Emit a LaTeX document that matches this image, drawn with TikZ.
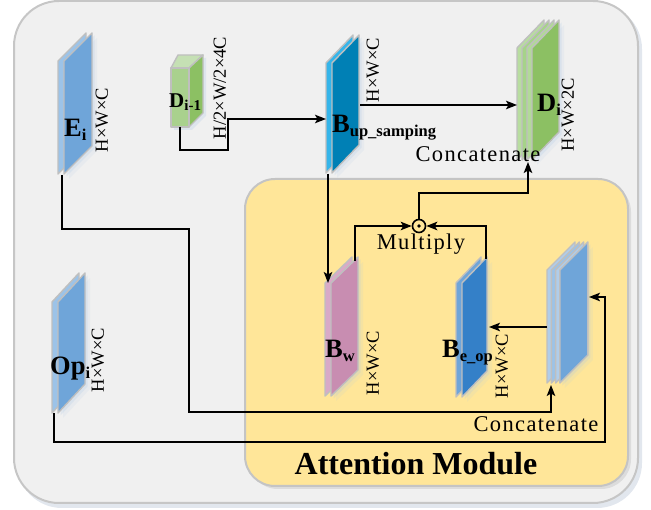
\documentclass[tikz,border=0pt]{standalone}
\usepackage{fontspec}
\setmainfont{Liberation Serif}
\newfontfamily\lsfont[LetterSpace=6]{Liberation Serif}
\usetikzlibrary{arrows.meta}

\definecolor{outerfill}{HTML}{F0F0F0}
\definecolor{outerdraw}{HTML}{C6C6C6}
\definecolor{outershadow}{HTML}{E2E7EE}
\definecolor{yellowfill}{HTML}{FFE699}
\definecolor{yellowdraw}{HTML}{C4C4C4}
\definecolor{yellowshadow}{HTML}{DCDCDC}
\definecolor{edgegrey}{HTML}{BFBFBF}
\definecolor{glowc}{HTML}{A9C6E6}
\definecolor{eifront}{HTML}{6FA5D9}
\definecolor{eiside}{HTML}{9CC3E8}
\definecolor{bupfront}{HTML}{0080B5}
\definecolor{bupside}{HTML}{35B5EA}
\definecolor{difront}{HTML}{8CC063}
\definecolor{dione}{HTML}{B8DDA0}
\definecolor{ditwo}{HTML}{A6D389}
\definecolor{dithree}{HTML}{B2DA98}
\definecolor{dmfront}{HTML}{A9D18E}
\definecolor{dmright}{HTML}{8CC063}
\definecolor{dmtop}{HTML}{C5E0B4}
\definecolor{bwfront}{HTML}{C88DB1}
\definecolor{bwside}{HTML}{D9AAC8}
\definecolor{befront}{HTML}{3480C8}
\definecolor{beside}{HTML}{6FA5D9}
\definecolor{ccone}{HTML}{B0CDEA}
\definecolor{cctwo}{HTML}{9CC3E8}
\definecolor{ccthree}{HTML}{B0CDEA}

\tikzset{
  conn/.style={line width=1.8pt, draw=black},
  arr/.style={conn, -{Stealth[length=11pt,width=8.5pt,inset=2.5pt]}},
  slabedge/.style={draw=edgegrey, line width=1.4pt, line join=round},
  dimlabel/.style={rotate=90, font=\fontsize{18.5}{18.5}\selectfont, inner sep=0},
  biglabel/.style={anchor=base west, inner sep=0, font=\fontsize{26.5}{26.5}\selectfont\bfseries},
  txtlabel/.style={anchor=base, inner sep=0, font=\fontsize{22.5}{22.5}\selectfont\lsfont},
}
\newcommand{\mysub}[1]{\raisebox{-3.5pt}{\fontsize{16.5}{16.5}\selectfont\bfseries #1}}
% #1 left x, #2 top y, #3 layer step, #4 width, #5 height, #6 skew, #7 colours, #8 index of front layer
\newcommand{\slabpanel}[8]{%
  \fill[glowc, opacity=0.12] ({#1+#8*#3+5},{#2+5}) -- ++(#4,-#6) -- ++(0,#5) -- ++(-#4,#6) -- cycle;
  \fill[glowc, opacity=0.22] ({#1+#8*#3+2.5},{#2+2.5}) -- ++(#4,-#6) -- ++(0,#5) -- ++(-#4,#6) -- cycle;
  \foreach \col [count=\k from 0] in {#7} {%
    \pgfmathsetmacro\xx{#1+\k*#3}%
    \draw[slabedge, fill=\col] (\xx,#2) -- ++(#4,-#6) -- ++(0,#5) -- ++(-#4,#6) -- cycle;
  }}

\begin{document}
\begin{tikzpicture}[x=1pt,y=-1pt]
\useasboundingbox (0,0) rectangle (651,510);
% outer box
\fill[outershadow, rounded corners=45pt] (17,4) rectangle (642,508);
\draw[fill=outerfill, draw=outerdraw, line width=2pt, rounded corners=45pt] (14,1) rectangle (638,503);
% attention module box
\fill[yellowshadow, rounded corners=30pt] (248,182) rectangle (631,489);
\draw[fill=yellowfill, draw=yellowdraw, line width=2pt, rounded corners=30pt] (245,179) rectangle (628,486);

% panels
\slabpanel{58}{61}{6}{28}{113}{28}{eiside,eifront}{1}
\slabpanel{52}{302}{6}{27}{111}{29}{eiside,eifront}{1}
\slabpanel{326}{63}{6}{27}{110}{28}{bupside,bupfront}{1}
\slabpanel{325}{283}{6}{27}{113}{26}{bwside,bwfront}{1}
\slabpanel{456}{283}{6}{25}{114}{26}{beside,befront}{1}
\slabpanel{547}{270}{4.3}{28}{113}{28}{ccone,cctwo,ccthree,eifront}{3}
\slabpanel{517}{48}{5}{27}{112}{28}{dione,ditwo,dithree,difront}{3}
% D_{i-1} cube
\fill[glowc, opacity=0.25] (174,71) -- (181,58) -- (206,58) -- (206,116) -- (192,130) -- (174,130) -- cycle;
\draw[slabedge, fill=dmtop] (171,68) -- (178,55) -- (203,55) -- (189,68) -- cycle;
\draw[slabedge, fill=dmright] (189,68) -- (203,55) -- (203,113) -- (189,127) -- cycle;
\draw[slabedge, fill=dmfront] (171,68) rectangle (189,127);

% connector end points
\coordinate (dimB) at (180,127);
\coordinate (bupIn) at (326,119);
\coordinate (bupR) at (360,105);
\coordinate (diL) at (517,105);
\coordinate (bupB) at (328,174);
\coordinate (bwT) at (328,283);
\coordinate (bwTop) at (355,261);
\coordinate (beTop) at (486,259);
\coordinate (diB) at (528,162);
\coordinate (ccL) at (547,327);
\coordinate (beR) at (489,327);
\coordinate (eiB) at (62,175);
\coordinate (ccB) at (551,385);
\coordinate (opB) at (54,413);
\coordinate (ccR) at (589,297);

\node[circle, draw=black, line width=1.6pt, minimum size=13pt, inner sep=0] (mul) at (419,226) {};
\fill[black] (mul.center) circle (1.8pt);

% connectors
\draw[arr] (dimB) -- ++(0,23) -- ++(48,0) |- (bupIn);
\draw[arr] (bupR) -- (diL);
\draw[arr] (bupB) -- (bwT);
\draw[arr] (bwTop) |- (mul.west);
\draw[arr] (beTop) |- (mul.east);
\draw[arr] (mul.north) -- ++(0,-26) -| (diB);
\draw[arr] (ccL) -- (beR);
\draw[arr] (eiB) -- ++(0,54) -- ++(127,0) -- ++(0,183) -| (ccB);
\draw[arr] (opB) -- ++(0,29) -- ++(551,0) |- (ccR);

% labels
\node[biglabel] (lEi) at (64,137) {E\mysub{i}};
\node[biglabel, font=\fontsize{21}{21}\selectfont\bfseries] (lDim) at (169,108) {D\raisebox{-3pt}{\fontsize{15}{15}\selectfont\bfseries i-1}};
\node[biglabel] (lBup) at (332,133) {B\mysub{up\_samping}};
\node[biglabel] (lDi) at (537,112) {D\mysub{i}};
\node[biglabel] (lBw) at (325,358) {B\mysub{w}};
\node[biglabel] (lBe) at (442,358) {B\mysub{e\_op}};
\node[biglabel] (lOp) at (50,375) {Op\mysub{i}};

\node[dimlabel] (dEi) at (102,120) {H×W×C};
\node[dimlabel] (dDim) at (220,88) {H/2×W/2×4C};
\node[dimlabel] (dBup) at (373,70) {H×W×C};
\node[dimlabel] (dDi) at (568,115) {H×W×2C};
\node[dimlabel] (dBw) at (373,363) {H×W×C};
\node[dimlabel] (dBe) at (502,366) {H×W×C};
\node[dimlabel] (dOp) at (98,360) {H×W×C};

\node[txtlabel] (cat1) at (478,162) {Concatenate};
\node[txtlabel] (mtxt) at (421,250) {Multiply};
\node[txtlabel] (cat2) at (536,432) {Concatenate};
\node[anchor=base, inner sep=0, font=\fontsize{32}{32}\selectfont\bfseries] (att) at (416,475) {Attention Module};
\end{tikzpicture}
\end{document}
